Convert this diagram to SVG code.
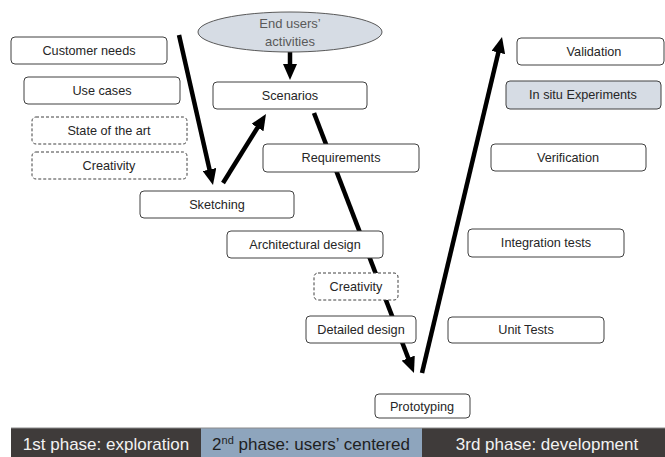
<svg xmlns="http://www.w3.org/2000/svg" width="665" height="457" viewBox="0 0 665 457">
<style>
.box{fill:#ffffff;stroke:#404040;stroke-width:1}
.dash{fill:#ffffff;stroke:#404040;stroke-width:1;stroke-dasharray:3 2}
.shade{fill:#d6dce4;stroke:#404040;stroke-width:1}
.t{font-family:"Liberation Sans",Arial,sans-serif;font-size:12.7px;fill:#262626;text-anchor:middle}
.et{font-family:"Liberation Sans",Arial,sans-serif;font-size:13px;fill:#595959;text-anchor:middle}
.bar{font-family:"Liberation Sans",Arial,sans-serif;font-size:17px;text-anchor:middle}
.conn{stroke:#000000;stroke-width:4.5;fill:none;marker-end:url(#ah)}
</style>
<defs>
<marker id="ah" markerUnits="userSpaceOnUse" viewBox="0 0 16 14" refX="6" refY="7" markerWidth="16" markerHeight="14" orient="auto">
<path d="M0,0 L16,7 L0,14 z" fill="#000000"/>
</marker>
</defs>
<rect width="665" height="457" fill="#ffffff"/>

<g id="connectors">
<line class="conn" x1="179" y1="35" x2="210.8" y2="175.3"/>
<line class="conn" x1="223" y1="183" x2="260.7" y2="122.5"/>
<line class="conn" x1="290" y1="52" x2="290" y2="70"/>
<line class="conn" x1="314" y1="113" x2="410.4" y2="363.7"/>
<line class="conn" x1="422" y1="373" x2="499.7" y2="46.7"/>
</g>

<g id="end-users">
<ellipse cx="290" cy="32" rx="92" ry="20" fill="#d6dce4" stroke="#595959" stroke-width="1"/>
<text class="et" x="290" y="28">End users’</text>
<text class="et" x="290" y="46">activities</text>
</g>
<g id="customer-needs"><rect class="box" x="11" y="37" width="156" height="27" rx="4"/><text class="t" x="89" y="55">Customer needs</text></g>
<g id="use-cases"><rect class="box" x="24" y="77" width="156" height="27" rx="4"/><text class="t" x="102" y="95">Use cases</text></g>
<g id="state-of-art"><rect class="dash" x="32" y="117" width="155" height="27" rx="4"/><text class="t" x="109" y="135">State of the art</text></g>
<g id="creativity-1"><rect class="dash" x="32" y="152" width="155" height="27" rx="4"/><text class="t" x="109" y="170">Creativity</text></g>
<g id="sketching"><rect class="box" x="140" y="191" width="154" height="27" rx="4"/><text class="t" x="217" y="209">Sketching</text></g>
<g id="scenarios"><rect class="box" x="213" y="82" width="154" height="27" rx="4"/><text class="t" x="290" y="100">Scenarios</text></g>
<g id="requirements"><rect class="box" x="263" y="144" width="156" height="28" rx="4"/><text class="t" x="341" y="162">Requirements</text></g>
<g id="architectural-design"><rect class="box" x="227" y="231" width="156" height="27" rx="4"/><text class="t" x="305" y="249">Architectural design</text></g>
<g id="creativity-2"><rect class="dash" x="314" y="273" width="84" height="27" rx="4"/><text class="t" x="356" y="291">Creativity</text></g>
<g id="detailed-design"><rect class="box" x="306" y="316" width="110" height="27" rx="4"/><text class="t" x="361" y="334">Detailed design</text></g>
<g id="prototyping"><rect class="box" x="375" y="394" width="95" height="24" rx="4"/><text class="t" x="422" y="411">Prototyping</text></g>
<g id="unit-tests"><rect class="box" x="448" y="317" width="156" height="26" rx="4"/><text class="t" x="526" y="334">Unit Tests</text></g>
<g id="integration-tests"><rect class="box" x="468" y="229" width="156" height="28" rx="4"/><text class="t" x="546" y="247">Integration tests</text></g>
<g id="verification"><rect class="box" x="491" y="144" width="155" height="27" rx="4"/><text class="t" x="568" y="162">Verification</text></g>
<g id="in-situ"><rect class="shade" x="506" y="81" width="155" height="28" rx="4"/><text class="t" x="583" y="99">In situ Experiments</text></g>
<g id="validation"><rect class="box" x="517" y="38" width="147" height="27" rx="4"/><text class="t" x="594" y="56">Validation</text></g>

<g id="phase-bar">
<rect x="11" y="428" width="190" height="29" fill="#3f3b3a"/>
<rect x="201" y="428" width="221" height="29" fill="#8ea5bd"/>
<rect x="422" y="428" width="243" height="29" fill="#3f3b3a"/>
<line x1="11" y1="428" x2="665" y2="428" stroke="#8a8a8a" stroke-width="1"/>
<text class="bar" x="106" y="450" fill="#f2f2f2">1st phase: exploration</text>
<text class="bar" x="311" y="450" fill="#1f1f1f">2<tspan font-size="11px" dy="-6">nd</tspan><tspan dy="6"> phase: users’ centered</tspan></text>
<text class="bar" x="547" y="450" fill="#f2f2f2">3rd phase: development</text>
</g>
</svg>
